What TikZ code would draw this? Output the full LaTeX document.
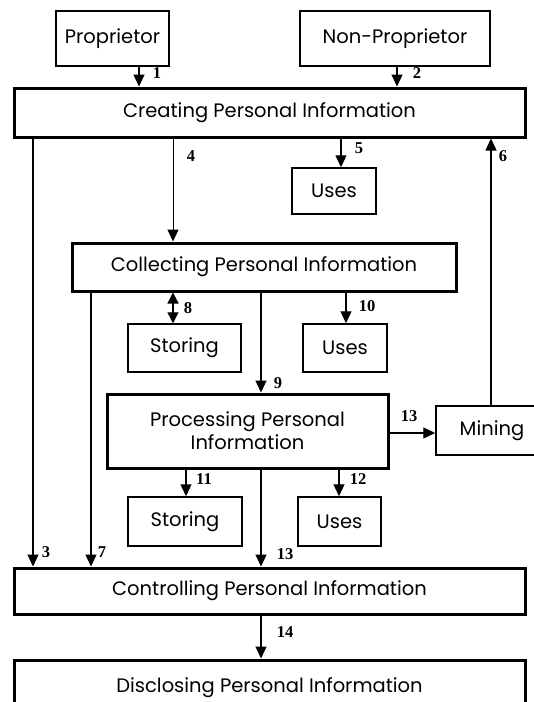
\documentclass[tikz,border=0pt]{standalone}
\usepackage{fontspec}
\setmainfont{Poppins}
\newfontfamily\numfont{Liberation Serif}
\usetikzlibrary{arrows.meta}
\begin{document}
\begin{tikzpicture}[x=1pt,y=-1pt,
  box/.style={draw=black,line width=1.5pt,inner sep=0pt,font=\fontsize{19.5}{23}\selectfont,align=center},
  bigbox/.style={box,line width=3pt},
  arr/.style={line width=1.3pt,-{Triangle[length=12pt,width=11pt]}},
  dbl/.style={line width=1.3pt,{Triangle[length=11pt,width=11pt]}-{Triangle[length=11pt,width=11pt]}},
  num/.style={font=\numfont\bfseries\fontsize{16.5}{18}\selectfont,inner sep=0pt}]
\clip (0,0) rectangle (534,702);
\fill[white] (0,0) rectangle (534,702);
% boxes
\node[box,minimum width=113pt,minimum height=55pt] (prop) at (112.5,38.5) {Proprietor};
\node[box,minimum width=190pt,minimum height=55pt] (nonprop) at (395,38.5) {Non-Proprietor};
\node[bigbox,minimum width=511pt,minimum height=49pt] (create) at (269.5,112.5) {Creating Personal Information};
\node[box,minimum width=84pt,minimum height=46pt] (uses1) at (334,191) {Uses};
\node[bigbox,minimum width=384pt,minimum height=48pt] (collect) at (264,267) {Collecting Personal Information};
\node[box,minimum width=113pt,minimum height=48pt] (store1) at (184.5,348) {Storing};
\node[box,minimum width=84pt,minimum height=48pt] (uses2) at (345,348) {Uses};
\node[bigbox,minimum width=281pt,minimum height=74pt] (process) at (247.5,431) {Processing Personal\\Information};
\node[box,minimum width=112pt,minimum height=49pt] (mining) at (492,430.5) {Mining};
\node[box,minimum width=114pt,minimum height=49pt] (store2) at (185,521.5) {Storing};
\node[box,minimum width=83pt,minimum height=49pt] (uses3) at (339.5,521.5) {Uses};
\node[bigbox,minimum width=511pt,minimum height=46pt] (control) at (269.5,591) {Controlling Personal Information};
\node[bigbox,minimum width=511pt,minimum height=56pt] (disclose) at (269.5,688) {Disclosing Personal Information};
% x positions of connectors
\coordinate (c1) at (139,0);
\coordinate (c2) at (397,0);
\coordinate (c3) at (33,0);
\coordinate (c4) at (173,0);
\coordinate (c5) at (341,0);
\coordinate (c6) at (491,0);
\coordinate (c7) at (91,0);
\coordinate (c8) at (173,0);
\coordinate (c9) at (261,0);
\coordinate (c10) at (346,0);
\coordinate (c11) at (186,0);
\coordinate (c12) at (339,0);
\coordinate (c13) at (0,433);
% connectors
\draw[arr] (prop.south -| c1) -- (create.north -| c1);
\draw[arr] (nonprop.south -| c2) -- (create.north -| c2);
\draw[arr] (create.south -| c3) -- (control.north -| c3);
\draw[arr,line width=1pt] (create.south -| c4) -- (collect.north -| c4);
\draw[arr] (create.south -| c5) -- (uses1.north -| c5);
\draw[arr] (mining.north -| c6) -- (create.south -| c6);
\draw[arr] (collect.south -| c7) -- (control.north -| c7);
\draw[dbl] (collect.south -| c8) -- (store1.north -| c8);
\draw[arr] (collect.south -| c9) -- (process.north -| c9);
\draw[arr] (collect.south -| c10) -- (uses2.north -| c10);
\draw[arr] (process.south -| c11) -- (store2.north -| c11);
\draw[arr] (process.south -| c12) -- (uses3.north -| c12);
\draw[arr] (process.east |- c13) -- (mining.west |- c13);
\draw[arr] (process.south -| c9) -- (control.north -| c9);
\draw[arr] (control.south -| c9) -- (disclose.north -| c9);
% labels
\node[num] (n1) at (157,73) {1};
\node[num] (n2) at (417,73) {2};
\node[num] (n4) at (191,156) {4};
\node[num] (n5) at (359,148) {5};
\node[num] (n6) at (503,156) {6};
\node[num] (n8) at (188,308) {8};
\node[num] (n10) at (367,306) {10};
\node[num] (n9) at (278,383) {9};
\node[num] (n13a) at (409,416) {13};
\node[num] (n11) at (204,479) {11};
\node[num] (n12) at (358,479) {12};
\node[num] (n3) at (46,552) {3};
\node[num] (n7) at (102,552) {7};
\node[num] (n13b) at (285,554) {13};
\node[num] (n14) at (285,632) {14};
\end{tikzpicture}
\end{document}
